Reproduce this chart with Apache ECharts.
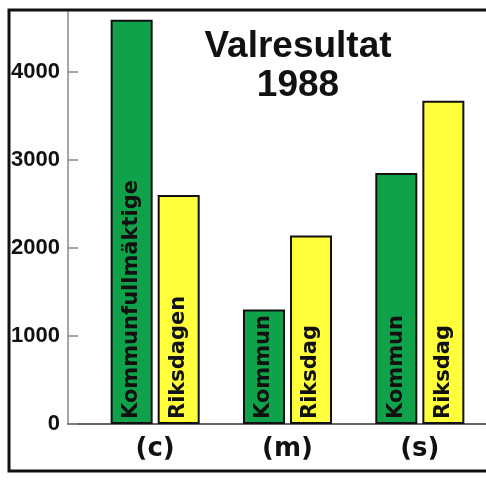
<!DOCTYPE html>
<html>
<head>
<meta charset="utf-8">
<script src="https://cdn.jsdelivr.net/npm/echarts@6/dist/echarts.min.js"></script>
<style>html,body{margin:0;padding:0;background:#fff}#c{width:486px;height:480px}</style>
</head>
<body>
<div id="c"></div>
<script>
const categories = ['(c)', '(m)', '(s)'];
const kommunValues = [4590, 1300, 2850];
const riksdagValues = [2600, 2140, 3670];
const kommunLabels = ['Kommunfullmäktige', 'Kommun', 'Kommun'];
const riksdagLabels = ['Riksdagen', 'Riksdag', 'Riksdag'];
const yTicks = [0, 1000, 2000, 3000, 4000];
const titleText = 'Valresultat\n1988';

const chart = echarts.init(document.getElementById('c'), null, {renderer: 'canvas'});
const barLabel = (names) => ({
  show: true,
  position: 'insideBottom',
  rotate: 90,
  align: 'left',
  verticalAlign: 'middle',
  distance: 5,
  fontFamily: 'DejaVu Sans',
  fontWeight: 'bold',
  fontSize: 21,
  color: '#111',
  formatter: (p) => names[p.dataIndex]
});
chart.setOption({
  animation: false,
  backgroundColor: '#fff',
  title: {
    text: titleText,
    left: 298,
    top: 27,
    textAlign: 'center',
    padding: 0,
    textStyle: {fontFamily: 'Liberation Sans', fontWeight: 'bold', fontSize: 37, lineHeight: 39, color: '#111'}
  },
  graphic: [{
    type: 'rect', silent: true, z: 100,
    shape: {x: 9, y: 10, width: 495, height: 461},
    style: {fill: 'none', stroke: '#111', lineWidth: 3}
  }],
  grid: [
    {left: 68, right: 0, top: 10, bottom: 56},
    {left: 89, width: 402, top: 10, bottom: 56}
  ],
  xAxis: [
    {gridIndex: 0, type: 'value', min: 0, max: 1, axisLine: {show: true, lineStyle: {color: '#333', width: 1.5}}, axisTick: {show: false}, axisLabel: {show: false}, splitLine: {show: false}},
    {gridIndex: 1, type: 'category', data: categories, axisLine: {show: false}, axisTick: {show: false},
     axisLabel: {margin: 12, fontFamily: 'DejaVu Sans', fontWeight: 'bold', fontSize: 26, color: '#111'}}
  ],
  yAxis: [
    {gridIndex: 0, type: 'value', min: 0, max: 4700, interval: 1000,
     axisLine: {show: true, lineStyle: {color: '#888', width: 1.5}},
     axisTick: {show: true, inside: true, length: 10, customValues: yTicks, lineStyle: {color: '#888', width: 1.5}},
     axisLabel: {margin: 8, customValues: yTicks, formatter: (v) => String(v), fontFamily: 'Liberation Sans', fontWeight: 'bold', fontSize: 22, color: '#111'},
     splitLine: {show: false}},
    {gridIndex: 1, type: 'value', min: 0, max: 4700, show: false, splitLine: {show: false}}
  ],
  series: [
    {type: 'bar', xAxisIndex: 1, yAxisIndex: 1, data: kommunValues, barWidth: 42, barGap: '12%',
     itemStyle: {color: '#0fa24b', borderColor: '#111', borderWidth: 2}, label: barLabel(kommunLabels)},
    {type: 'bar', xAxisIndex: 1, yAxisIndex: 1, data: riksdagValues, barWidth: 42, barGap: '12%',
     itemStyle: {color: '#ffff3c', borderColor: '#111', borderWidth: 2}, label: barLabel(riksdagLabels)}
  ]
});
</script>
</body>
</html>
